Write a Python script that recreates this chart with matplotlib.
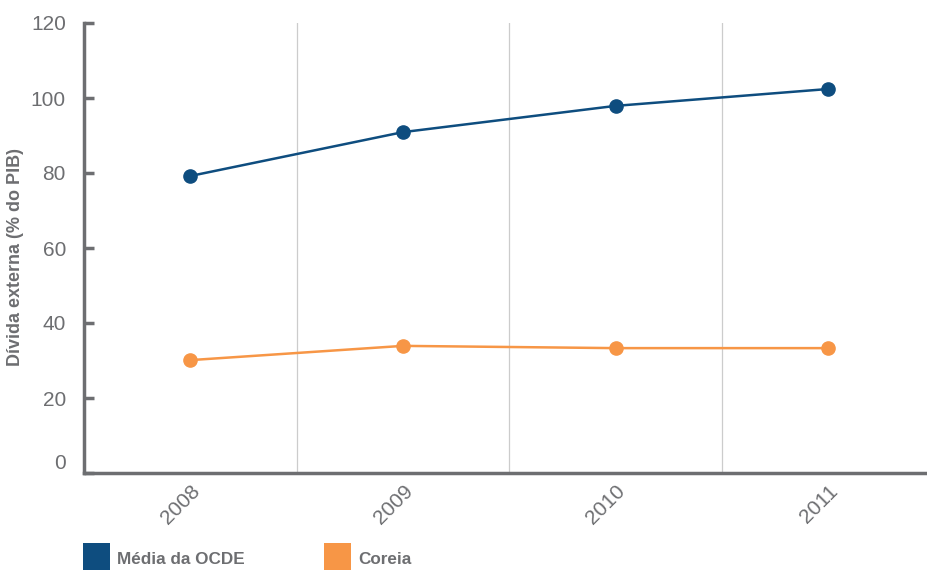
import matplotlib.pyplot as plt
from matplotlib.patches import Rectangle

anos = ['2008', '2009', '2010', '2011']
ocde = [79.2, 90.9, 97.9, 102.4]
coreia = [30.1, 33.9, 33.3, 33.3]
series_nomes = ['Média da OCDE', 'Coreia']
cores = ['#0e4d7f', '#f79646']

cinza = '#6d6e71'
plt.rcParams['font.family'] = ['Liberation Sans', 'DejaVu Sans']

fig = plt.figure(figsize=(9.27, 5.70), dpi=100)
ax = fig.add_axes([84/927, 1-473/570, 1-84/927, (473-23)/570])

x = list(range(len(anos)))
ax.plot(x, ocde, color=cores[0], lw=1.8, marker='o', ms=9.5, zorder=3)
ax.plot(x, coreia, color=cores[1], lw=1.8, marker='o', ms=9.5, zorder=3)

for g in [0.5, 1.5, 2.5]:
    ax.axvline(g, color='#cccccc', lw=0.9, zorder=1)

ax.set_xlim(-0.5, 3.465)
ax.set_ylim(0, 120)
ax.set_yticks(range(0, 121, 20))
ax.set_xticks(x)
ax.set_xticklabels(anos, rotation=45, ha='right', va='top', rotation_mode='anchor')

for s in ['top', 'right']:
    ax.spines[s].set_visible(False)
for s in ['left', 'bottom']:
    ax.spines[s].set_color(cinza)
    ax.spines[s].set_linewidth(2.5)

ax.tick_params(axis='y', direction='in', length=7, width=2.5, color=cinza,
               labelcolor=cinza, labelsize=15, pad=13)
ax.tick_params(axis='x', length=0, labelcolor=cinza, labelsize=15, pad=6)
ax.get_yticklabels()[0].set_verticalalignment('bottom')
ax.set_ylabel('Dívida externa (% do PIB)', color=cinza, fontsize=13,
              fontweight='bold')
ax.yaxis.set_label_coords(-0.071, 0.48)

# legenda na parte de baixo
leg_x = [83, 324]
for nome, cor, lx in zip(series_nomes, cores, leg_x):
    fig.patches.append(Rectangle((lx/927, 0), 27/927, 27/570, transform=fig.transFigure,
                                 facecolor=cor, edgecolor='none'))
    fig.text((lx+34)/927, 10/570, nome, color=cinza, fontsize=12.3,
             fontweight='bold', va='center')

fig.savefig('out.png', dpi=100)
